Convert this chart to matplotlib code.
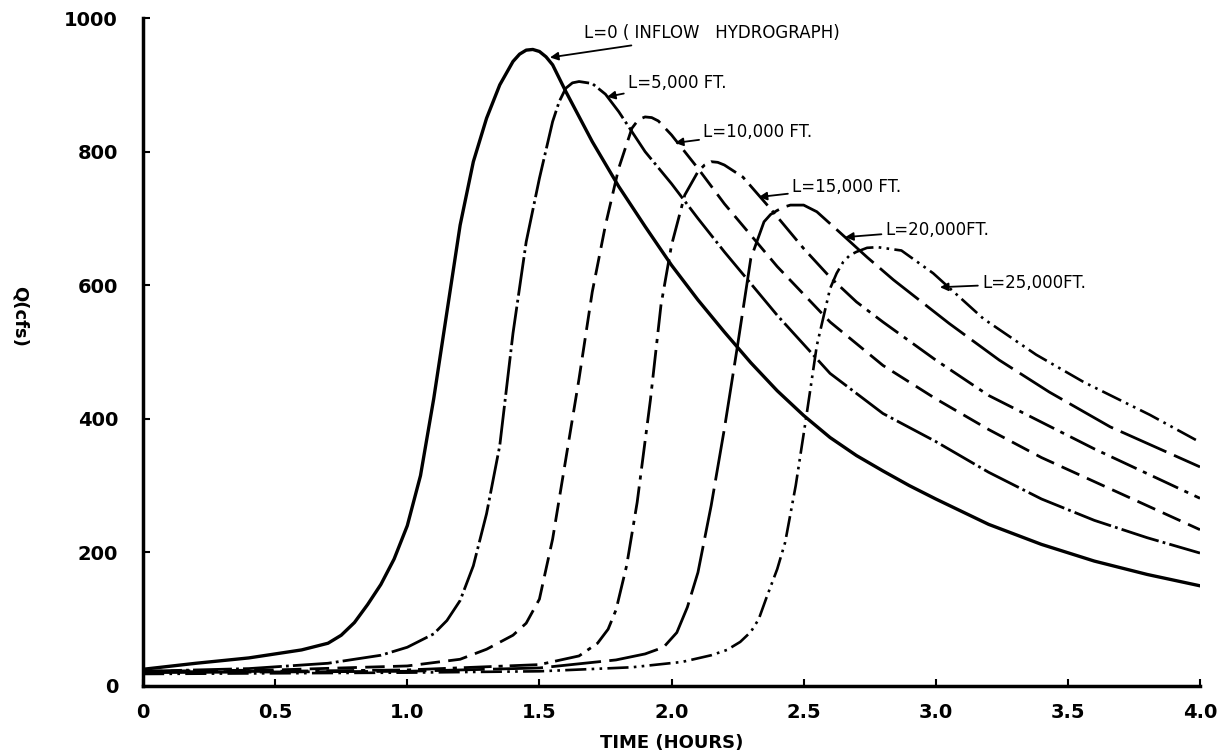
import matplotlib
matplotlib.use("Agg")
import matplotlib.pyplot as plt

# --- digitised hydrographs (time in hours, Q in cfs) ---
t_l0 = [0.0, 0.2, 0.4, 0.6, 0.7, 0.75, 0.8, 0.85, 0.9, 0.95, 1.0, 1.05, 1.1, 1.15, 1.2, 1.25,
        1.3, 1.35, 1.4, 1.425, 1.45, 1.475, 1.5, 1.525, 1.55, 1.6, 1.7, 1.8, 1.9, 2.0, 2.1,
        2.2, 2.3, 2.4, 2.5, 2.6, 2.7, 2.8, 2.9, 3.0, 3.2, 3.4, 3.6, 3.8, 4.0]
q_l0 = [25, 34, 42, 54, 64, 76, 95, 122, 152, 190, 240, 315, 430, 560, 690, 785,
        850, 900, 935, 946, 952, 953, 950, 942, 930, 890, 815, 748, 688, 630, 578,
        530, 484, 442, 405, 372, 345, 322, 300, 280, 242, 212, 187, 167, 150]

t_l5 = [0.0, 0.4, 0.7, 0.9, 1.0, 1.1, 1.15, 1.2, 1.25, 1.3, 1.35, 1.4, 1.45, 1.5, 1.55, 1.575,
        1.6, 1.625, 1.65, 1.7, 1.75, 1.8, 1.9, 2.0, 2.1, 2.2, 2.4, 2.6, 2.8, 3.0, 3.2, 3.4,
        3.6, 3.8, 4.0]
q_l5 = [22, 26, 34, 46, 58, 78, 98, 128, 180, 258, 360, 528, 665, 760, 845, 875,
        895, 903, 905, 902, 886, 860, 800, 752, 700, 650, 555, 468, 408, 366, 320, 280,
        248, 222, 199]

t_l10 = [0.0, 0.5, 1.0, 1.2, 1.3, 1.4, 1.45, 1.5, 1.55, 1.6, 1.65, 1.7, 1.75, 1.8, 1.85,
         1.875, 1.9, 1.925, 1.95, 2.0, 2.1, 2.2, 2.4, 2.6, 2.8, 3.0, 3.2, 3.4, 3.6, 3.8, 4.0]
q_l10 = [22, 24, 30, 40, 55, 76, 94, 130, 220, 340, 460, 590, 690, 775, 835,
         848, 852, 851, 846, 825, 775, 722, 628, 545, 480, 430, 384, 342, 306, 270, 234]

t_l15 = [0.0, 0.5, 1.0, 1.5, 1.65, 1.72, 1.76, 1.79, 1.83, 1.87, 1.92, 1.96, 2.0, 2.05, 2.1,
         2.125, 2.15, 2.175, 2.2, 2.27, 2.38, 2.5, 2.6, 2.7, 2.8, 3.0, 3.2, 3.4, 3.6, 3.8, 4.0]
q_l15 = [21, 22, 24, 32, 45, 64, 85, 114, 180, 275, 428, 570, 660, 735, 770,
         780, 785, 784, 780, 762, 712, 655, 612, 575, 545, 488, 435, 395, 355, 318, 281]

t_l20 = [0.0, 0.5, 1.0, 1.5, 1.79, 1.9, 1.97, 2.02, 2.06, 2.1, 2.15, 2.2, 2.25, 2.3, 2.35,
         2.375, 2.4, 2.425, 2.45, 2.5, 2.55, 2.64, 2.74, 2.84, 3.05, 3.24, 3.43, 3.66, 4.0]
q_l20 = [20, 21, 22, 27, 39, 48, 58, 80, 118, 170, 270, 385, 510, 640, 695,
         706, 712, 717, 720, 720, 710, 678, 642, 608, 543, 488, 440, 388, 328]

t_l25 = [0.0, 0.5, 1.0, 1.5, 1.85, 2.04, 2.15, 2.21, 2.26, 2.3, 2.33, 2.36, 2.4, 2.43, 2.47,
         2.51, 2.55, 2.6, 2.625, 2.65, 2.675, 2.7, 2.74, 2.78, 2.87, 2.99, 3.18, 3.38, 3.56,
         3.81, 4.0]
q_l25 = [18, 19, 20, 22, 28, 36, 46, 54, 66, 81, 100, 133, 175, 215, 300,
         403, 510, 595, 618, 635, 645, 650, 656, 657, 652, 618, 550, 496, 455,
         406, 365]

curve_labels = ["L=0 ( INFLOW   HYDROGRAPH)", "L=5,000 FT.", "L=10,000 FT.",
                "L=15,000 FT.", "L=20,000FT.", "L=25,000FT."]
x_ticks = [0, 0.5, 1.0, 1.5, 2.0, 2.5, 3.0, 3.5, 4.0]
x_tick_labels = ["0", "0.5", "1.0", "1.5", "2.0", "2.5", "3.0", "3.5", "4.0"]
y_ticks = [0, 200, 400, 600, 800, 1000]

series = [(t_l0, q_l0), (t_l5, q_l5), (t_l10, q_l10),
          (t_l15, q_l15), (t_l20, q_l20), (t_l25, q_l25)]

# line styles roughly like the hand drafted original
styles = ["-", (0, (14, 1.5, 1, 1.5)), (0, (7, 3)),
          (0, (10, 2.5, 1.5, 2.5)), (0, (18, 3)), (0, (8, 2, 1, 2, 1, 2))]
widths = [2.4, 2.0, 2.0, 2.0, 2.0, 1.9]

# where each label text sits and where its arrow points (data coords)
label_xy = [(1.67, 977), (1.835, 903), (2.12, 829), (2.456, 747), (2.81, 683), (3.175, 603)]
arrow_xy = [(1.54, 941), (1.756, 882), (2.013, 813), (2.33, 732), (2.657, 672), (3.016, 597)]

fig = plt.figure(figsize=(12.29, 7.53), dpi=100)
ax = fig.add_axes([0.1164, 0.089, 0.86, 0.887])

for (t, q), ls, lw in zip(series, styles, widths):
    ax.plot(t, q, color="black", linestyle=ls, linewidth=lw)

for text, txy, axy in zip(curve_labels, label_xy, arrow_xy):
    ax.annotate(text, xy=axy, xytext=txy, ha="left", va="center",
                fontsize=12, family="DejaVu Sans",
                arrowprops=dict(arrowstyle="-|>", color="black", lw=1.3,
                                mutation_scale=12, shrinkA=1, shrinkB=0))

ax.set_xlim(0, 4.0)
ax.set_ylim(0, 1000)
ax.set_xticks(x_ticks)
ax.set_xticklabels(x_tick_labels)
ax.set_yticks(y_ticks)

for side in ["top", "right"]:
    ax.spines[side].set_visible(False)
for side in ["left", "bottom"]:
    ax.spines[side].set_linewidth(2.5)

ax.tick_params(direction="in", length=5, width=1.5)
ax.tick_params(axis="x", pad=12)
ax.tick_params(axis="y", pad=18)
for lbl in ax.get_xticklabels() + ax.get_yticklabels():
    lbl.set_fontweight("bold")
    lbl.set_fontsize(14)
    lbl.set_family("DejaVu Sans")

fig.text(672 / 1229, 1 - 743 / 753, "TIME (HOURS)", ha="center", va="center",
         fontsize=13, fontweight="bold", family="DejaVu Sans")
fig.text(20 / 1229, 1 - 316 / 753, "Q(cfs)", ha="center", va="center", rotation=270,
         fontsize=13, fontweight="bold", family="DejaVu Sans")

fig.savefig("out.png", dpi=100)
